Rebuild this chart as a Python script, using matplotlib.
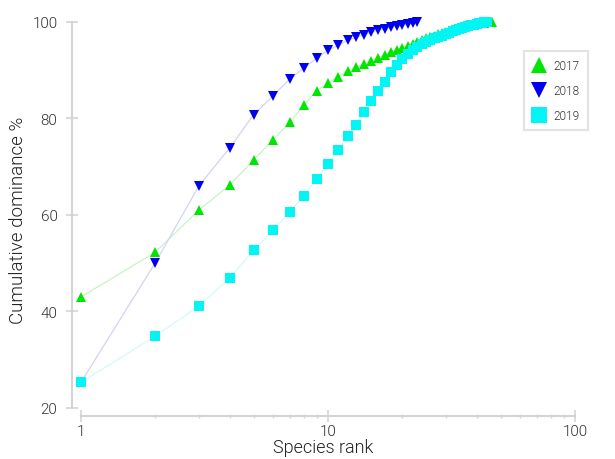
import matplotlib
matplotlib.use("Agg")
import matplotlib.pyplot as plt
from matplotlib.ticker import LogLocator, FixedLocator, NullFormatter
import numpy as np

plt.rcParams['font.family'] = ['Roboto', 'DejaVu Sans']

# ---- data ----
vals_2017 = [43.0, 52.3, 61.0, 66.2, 71.4, 75.6, 79.2, 82.8, 85.8, 87.3, 88.7, 89.8,
             90.6, 91.3, 92.0, 92.6, 93.2, 93.7, 94.2, 94.7, 95.1, 95.5, 95.9, 96.3,
             96.6, 96.9, 97.2, 97.5, 97.8, 98.0, 98.2, 98.4, 98.6, 98.8, 99.0, 99.1,
             99.25, 99.4, 99.5, 99.6, 99.7, 99.8, 99.85, 99.9, 99.95, 100.0]
vals_2018 = [25.3, 50.1, 66.0, 73.9, 80.8, 84.7, 88.2, 90.5, 92.5, 94.1, 95.2, 96.2,
             96.8, 97.4, 97.9, 98.3, 98.6, 98.9, 99.1, 99.35, 99.55, 99.8, 100.0]
vals_2019 = [25.3, 34.9, 41.1, 46.9, 52.7, 56.9, 60.6, 64.0, 67.5, 70.5, 73.5, 76.3,
             78.7, 81.3, 83.6, 85.6, 87.6, 89.6, 91.1, 92.3, 93.4, 94.1, 94.8, 95.4,
             95.8, 96.2, 96.6, 96.9, 97.2, 97.5, 97.8, 98.05, 98.3, 98.55, 98.75, 98.95,
             99.15, 99.3, 99.45, 99.6, 99.7, 99.8, 99.9, 100.0]
series_labels = ['2017', '2018', '2019']
x_label = 'Species rank'
y_label = 'Cumulative dominance %'
y_ticks = [20, 40, 60, 80, 100]
x_ticks = [1, 10, 100]

W, H = 615, 460
fig = plt.figure(figsize=(W / 100, H / 100), dpi=100)
left_px, right_px, top_px, bottom_px = 72, 575, 23, 417
ax = fig.add_axes([left_px / W, 1 - bottom_px / H, (right_px - left_px) / W, (bottom_px - top_px) / H])

ax.set_xscale('log')
ax.set_xlim(0.92, 100)
ax.set_ylim(18.34, 100)

styles = [
    dict(marker='^', color='#00e600', line='#c4f5c4'),
    dict(marker='v', color='#0000f0', line='#d2d2fa'),
    dict(marker='s', color='#00f5f5', line='#d2fafa'),
]
for vals, lab, st in zip([vals_2017, vals_2018, vals_2019], series_labels, styles):
    r = np.arange(1, len(vals) + 1)
    ax.plot(r, vals, color=st['line'], lw=0.9, zorder=2, clip_on=False)
    ax.plot(r, vals, linestyle='none', marker=st['marker'], color=st['color'],
            markersize=7, markeredgewidth=0, zorder=3, clip_on=False, label=lab)

spine_col = '#d4d4d4'
for s in ['top', 'right']:
    ax.spines[s].set_visible(False)
for s in ['left', 'bottom']:
    ax.spines[s].set_color(spine_col)
    ax.spines[s].set_linewidth(1.5)
ax.spines['left'].set_bounds(20, 100)
ax.spines['bottom'].set_bounds(1, 100)

ax.yaxis.set_major_locator(FixedLocator(y_ticks))
ax.set_yticklabels([str(t) for t in y_ticks])
ax.xaxis.set_major_locator(FixedLocator(x_ticks))
ax.set_xticklabels([str(t) for t in x_ticks])
ax.xaxis.set_minor_locator(LogLocator(base=10, subs=np.arange(2, 10), numticks=10))
ax.xaxis.set_minor_formatter(NullFormatter())

ax.tick_params(axis='both', which='major', direction='inout', length=9, width=1.2,
               color=spine_col, labelcolor='#333333', labelsize=11)
ax.tick_params(axis='y', which='major', pad=6)
ax.tick_params(axis='x', which='major', pad=1)
ax.tick_params(axis='x', which='minor', direction='inout', length=3.5, width=1.0, color=spine_col)
for t in ax.get_xticklabels() + ax.get_yticklabels():
    t.set_fontweight(300)

ax.set_xlabel(x_label, fontsize=13, color='#222222', fontweight=300, labelpad=0)
ax.set_ylabel(y_label, fontsize=13.5, color='#222222', fontweight=300, labelpad=4)
ax.xaxis.set_label_coords(0.5, -0.055)

leg = fig.legend(loc='upper left', bbox_to_anchor=(524 / W, 1 - 52 / H), fontsize=8.5,
                 markerscale=1.6, frameon=True, fancybox=False, handlelength=1.2,
                 handletextpad=0.6, borderpad=0.7, labelspacing=1.0, labelcolor='#333333',
                 borderaxespad=0)
leg.get_frame().set_edgecolor('#dddddd')
leg.get_frame().set_linewidth(1.5)
for t in leg.get_texts():
    t.set_fontweight(300)

fig.savefig('out.png', dpi=100)
